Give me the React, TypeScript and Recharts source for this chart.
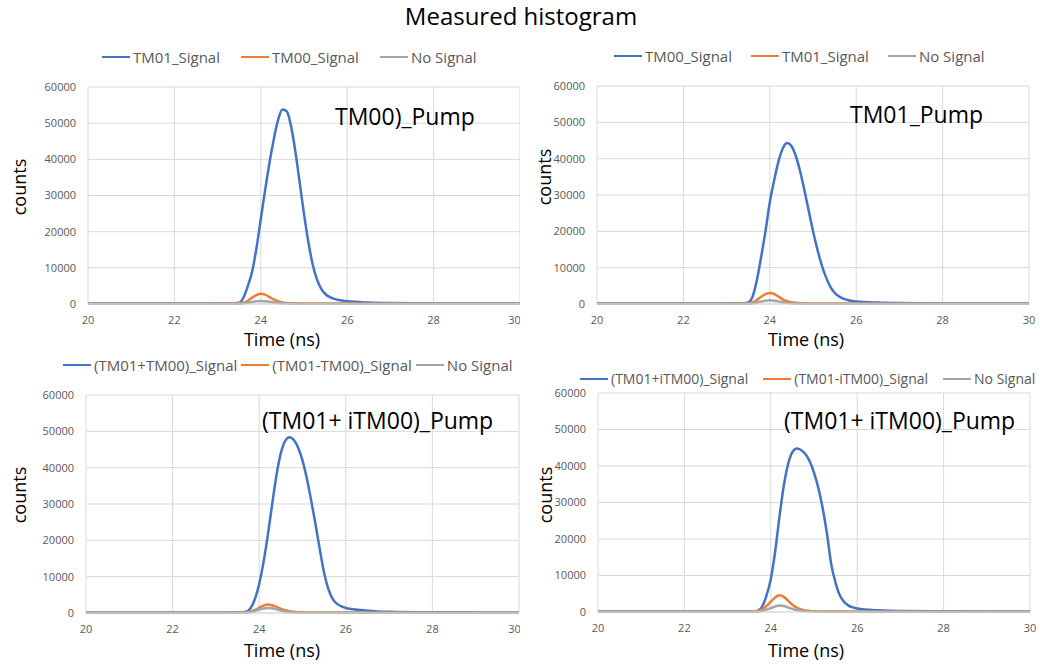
import React from "react";
import { LineChart, Line, XAxis, YAxis, CartesianGrid, Legend } from "recharts";

// time axis (ns), dense sampling around the pulse
const timeNs = [
  20, 21, 22, 23, 23.4, 23.5, 23.6, 23.7, 23.8, 23.9, 24.0, 24.1, 24.2, 24.3,
  24.4, 24.5, 24.6, 24.7, 24.8, 24.9, 25.0, 25.1, 25.2, 25.3, 25.4, 25.5, 25.6,
  25.7, 25.8, 25.9, 26.0, 26.5, 27, 28, 29, 30,
];
const timeTicks = [20, 22, 24, 26, 28, 30];
const countTicks = [0, 10000, 20000, 30000, 40000, 50000, 60000];

// TM00 pump
const tm00PumpBlue = [
  150, 150, 140, 150, 200, 350, 1800, 5000, 9000, 15500, 23500, 31500, 39000,
  45500, 50900, 53800, 53300, 49200, 42200, 33600, 24900, 17200, 11000, 6800,
  4200, 2700, 1900, 1400, 1100, 900, 750, 400, 250, 170, 150, 140,
];
const tm00PumpOrange = [
  100, 100, 100, 100, 120, 180, 350, 900, 1750, 2450, 2850, 2600, 1950, 1250,
  750, 450, 300, 230, 190, 170, 150, 140, 140, 130, 130, 120, 120, 120, 110,
  110, 110, 100, 100, 100, 100, 100,
];
const tm00PumpGrey = [
  80, 80, 80, 80, 90, 110, 180, 350, 550, 750, 850, 780, 600, 420, 280, 200,
  150, 120, 110, 100, 100, 90, 90, 90, 90, 90, 90, 90, 90, 90, 90, 90, 90, 90,
  90, 90,
];

// TM01 pump
const tm01PumpBlue = [
  150, 150, 150, 150, 180, 400, 2000, 6500, 13000, 20000, 28000, 34000, 39200,
  42800, 44300, 43500, 40800, 36600, 31400, 25700, 20100, 15100, 10800, 7400,
  4800, 3100, 2100, 1500, 1100, 850, 700, 380, 250, 170, 150, 150,
];
const tm01PumpOrange = [
  100, 100, 100, 100, 120, 200, 450, 1100, 2000, 2700, 3050, 2750, 2050, 1300,
  800, 480, 320, 240, 190, 170, 150, 140, 140, 130, 130, 120, 120, 120, 110,
  110, 110, 100, 100, 100, 100, 100,
];
const tm01PumpGrey = [
  80, 80, 80, 80, 90, 120, 220, 420, 680, 900, 1000, 920, 720, 500, 330, 230,
  170, 130, 110, 100, 100, 90, 90, 90, 90, 90, 90, 90, 90, 90, 90, 90, 90, 90,
  90, 90,
];

// (TM01+iTM00) pump, first run
const mixPumpABlue = [
  150, 150, 150, 150, 150, 150, 180, 350, 1300, 3800, 8000, 14000, 21500,
  30000, 38000, 44000, 47400, 48400, 47600, 45500, 42000, 37000, 31000, 24500,
  17500, 11000, 6500, 3800, 2500, 1800, 1400, 650, 350, 200, 160, 150,
];
const mixPumpAOrange = [
  100, 100, 100, 100, 100, 100, 120, 180, 400, 850, 1450, 2050, 2350, 2150,
  1700, 1150, 750, 480, 330, 240, 190, 160, 150, 140, 130, 130, 120, 120, 110,
  110, 110, 100, 100, 100, 100, 100,
];
const mixPumpAGrey = [
  90, 90, 90, 90, 90, 90, 100, 150, 300, 600, 950, 1250, 1400, 1300, 1000, 680,
  430, 280, 190, 140, 120, 100, 100, 100, 100, 100, 100, 100, 100, 100, 100,
  100, 100, 100, 100, 100,
];

// (TM01+iTM00) pump, second run
const mixPumpBBlue = [
  150, 150, 150, 150, 150, 150, 170, 350, 1500, 4500, 9000, 16500, 26000,
  34500, 40500, 43800, 44800, 44400, 43300, 41300, 38200, 34000, 28500, 21500,
  13000, 8000, 4500, 2700, 1750, 1250, 950, 450, 250, 180, 150, 150,
];
const mixPumpBOrange = [
  100, 100, 100, 100, 100, 110, 150, 250, 750, 1650, 2850, 4000, 4600, 4150,
  3100, 2000, 1200, 700, 430, 300, 220, 180, 160, 150, 140, 130, 120, 120, 110,
  110, 110, 100, 100, 100, 100, 100,
];
const mixPumpBGrey = [
  90, 90, 90, 90, 90, 100, 110, 160, 330, 650, 1050, 1500, 1750, 1620, 1250,
  850, 540, 350, 240, 170, 140, 120, 100, 100, 100, 100, 100, 100, 100, 100,
  100, 100, 100, 100, 100, 100,
];

const BLUE = "#4472C4";
const ORANGE = "#ED7D31";
const GREY = "#A5A5A5";
const GRID = "#D9D9D9";
const TICK = "#595959";
const FONT = "'Open Sans', sans-serif";

const panels = [
  {
    left: 0,
    top: 30,
    yWidth: 88,
    margin: { top: 57, right: 0, left: 0, bottom: 16 },
    legend: { left: 102, top: 17, gap: 21, size: 15 },
    names: ["TM01_Signal", "TM00_Signal", "No Signal"],
    series: [tm00PumpBlue, tm00PumpOrange, tm00PumpGrey],
  },
  {
    left: 520,
    top: 30,
    yWidth: 77,
    margin: { top: 56, right: 11, left: 0, bottom: 16 },
    legend: { left: 94, top: 16, gap: 19, size: 15 },
    names: ["TM00_Signal", "TM01_Signal", "No Signal"],
    series: [tm01PumpBlue, tm01PumpOrange, tm01PumpGrey],
  },
  {
    left: 0,
    top: 340,
    yWidth: 86,
    margin: { top: 55, right: 1, left: 0, bottom: 17 },
    legend: { left: 63, top: 15, gap: 4, size: 15 },
    names: ["(TM01+TM00)_Signal", "(TM01-TM00)_Signal", "No Signal"],
    series: [mixPumpABlue, mixPumpAOrange, mixPumpAGrey],
  },
  {
    left: 520,
    top: 340,
    yWidth: 78,
    margin: { top: 53, right: 10, left: 0, bottom: 18 },
    legend: { left: 60, top: 29, gap: 15, size: 14 },
    names: ["(TM01+iTM00)_Signal", "(TM01-iTM00)_Signal", "No Signal"],
    series: [mixPumpBBlue, mixPumpBOrange, mixPumpBGrey],
  },
];

const colors = [BLUE, ORANGE, GREY];

const LegendRow = ({ payload, gap, size }: any) => {
  // keep series order (s0, s1, s2) instead of the default sort by name
  const items = [...(payload || [])].sort((a: any, b: any) =>
    String(a.dataKey).localeCompare(String(b.dataKey))
  );
  return (
    <div style={{ display: "flex", alignItems: "center", fontFamily: FONT }}>
      {items.map((p: any, i: number) => (
        <div
          key={i}
          style={{
            display: "flex",
            alignItems: "center",
            marginRight: gap,
            lineHeight: "20px",
          }}
        >
          <span
            style={{
              display: "inline-block",
              width: 28,
              height: 2.5,
              background: p.color,
              marginRight: 3,
            }}
          />
          <span style={{ fontSize: size, color: TICK, whiteSpace: "nowrap" }}>
            {p.value}
          </span>
        </div>
      ))}
    </div>
  );
};

const Panel = ({ cfg }: any) => {
  const rows = timeNs.map((t, i) => ({
    t,
    s0: cfg.series[0][i],
    s1: cfg.series[1][i],
    s2: cfg.series[2][i],
  }));
  return (
    <div style={{ position: "absolute", left: cfg.left, top: cfg.top }}>
      <LineChart width={520} height={320} data={rows} margin={cfg.margin}>
        <CartesianGrid stroke={GRID} strokeWidth={1} />
        <XAxis
          dataKey="t"
          type="number"
          domain={[20, 30]}
          ticks={timeTicks}
          tickSize={0}
          tickMargin={12}
          axisLine={{ stroke: GRID }}
          tick={{ fontSize: 11, fill: TICK, fontFamily: FONT }}
        />
        <YAxis
          width={cfg.yWidth}
          domain={[0, 60000]}
          ticks={countTicks}
          tickSize={0}
          tickMargin={12}
          axisLine={false}
          tick={{ fontSize: 11, fill: TICK, fontFamily: FONT }}
        />
        <Legend
          layout="horizontal"
          verticalAlign="middle"
          align="center"
          wrapperStyle={{
            left: cfg.legend.left,
            top: cfg.legend.top,
            width: 470,
          }}
          content={(props: any) => (
            <LegendRow
              payload={props.payload}
              gap={cfg.legend.gap}
              size={cfg.legend.size}
            />
          )}
        />
        {[0, 1, 2].map((k) => (
          <Line
            key={k}
            dataKey={"s" + k}
            name={cfg.names[k]}
            type="monotone"
            stroke={colors[k]}
            strokeWidth={2.5}
            dot={false}
            activeDot={false}
            isAnimationActive={false}
          />
        ))}
      </LineChart>
    </div>
  );
};

const countsLabels = [
  [19, 187],
  [544, 177],
  [19, 495],
  [545, 495],
];
const timeLabels = [
  [282, 339],
  [806, 339],
  [282, 650],
  [806, 650],
];
const notes = [
  { x: 335, y: 125, text: "TM00)_Pump" },
  { x: 850, y: 123, text: "TM01_Pump" },
  { x: 262, y: 429, text: "(TM01+ iTM00)_Pump" },
  { x: 784, y: 429, text: "(TM01+ iTM00)_Pump" },
];

export default function App() {
  return (
    <div
      style={{
        position: "absolute",
        left: 0,
        top: 0,
        width: 1040,
        height: 666,
        background: "#fff",
        fontFamily: FONT,
        overflow: "hidden",
      }}
    >
      {panels.map((p, i) => (
        <Panel key={i} cfg={p} />
      ))}
      <svg
        width={1040}
        height={666}
        style={{ position: "absolute", left: 0, top: 0, pointerEvents: "none" }}
        fontFamily={FONT}
      >
        <text x={521} y={25} textAnchor="middle" fontSize={24} fill="#000">
          Measured histogram
        </text>
        {countsLabels.map(([x, y], i) => (
          <text
            key={"c" + i}
            x={x}
            y={y}
            transform={`rotate(-90 ${x} ${y})`}
            textAnchor="middle"
            dominantBaseline="central"
            fontSize={18}
            fill="#000"
          >
            counts
          </text>
        ))}
        {timeLabels.map(([x, y], i) => (
          <text
            key={"t" + i}
            x={x}
            y={y}
            textAnchor="middle"
            dominantBaseline="central"
            fontSize={18}
            fill="#000"
          >
            Time (ns)
          </text>
        ))}
        {notes.map((n, i) => (
          <text key={"n" + i} x={n.x} y={n.y} fontSize={23} fill="#000">
            {n.text}
          </text>
        ))}
      </svg>
    </div>
  );
}
